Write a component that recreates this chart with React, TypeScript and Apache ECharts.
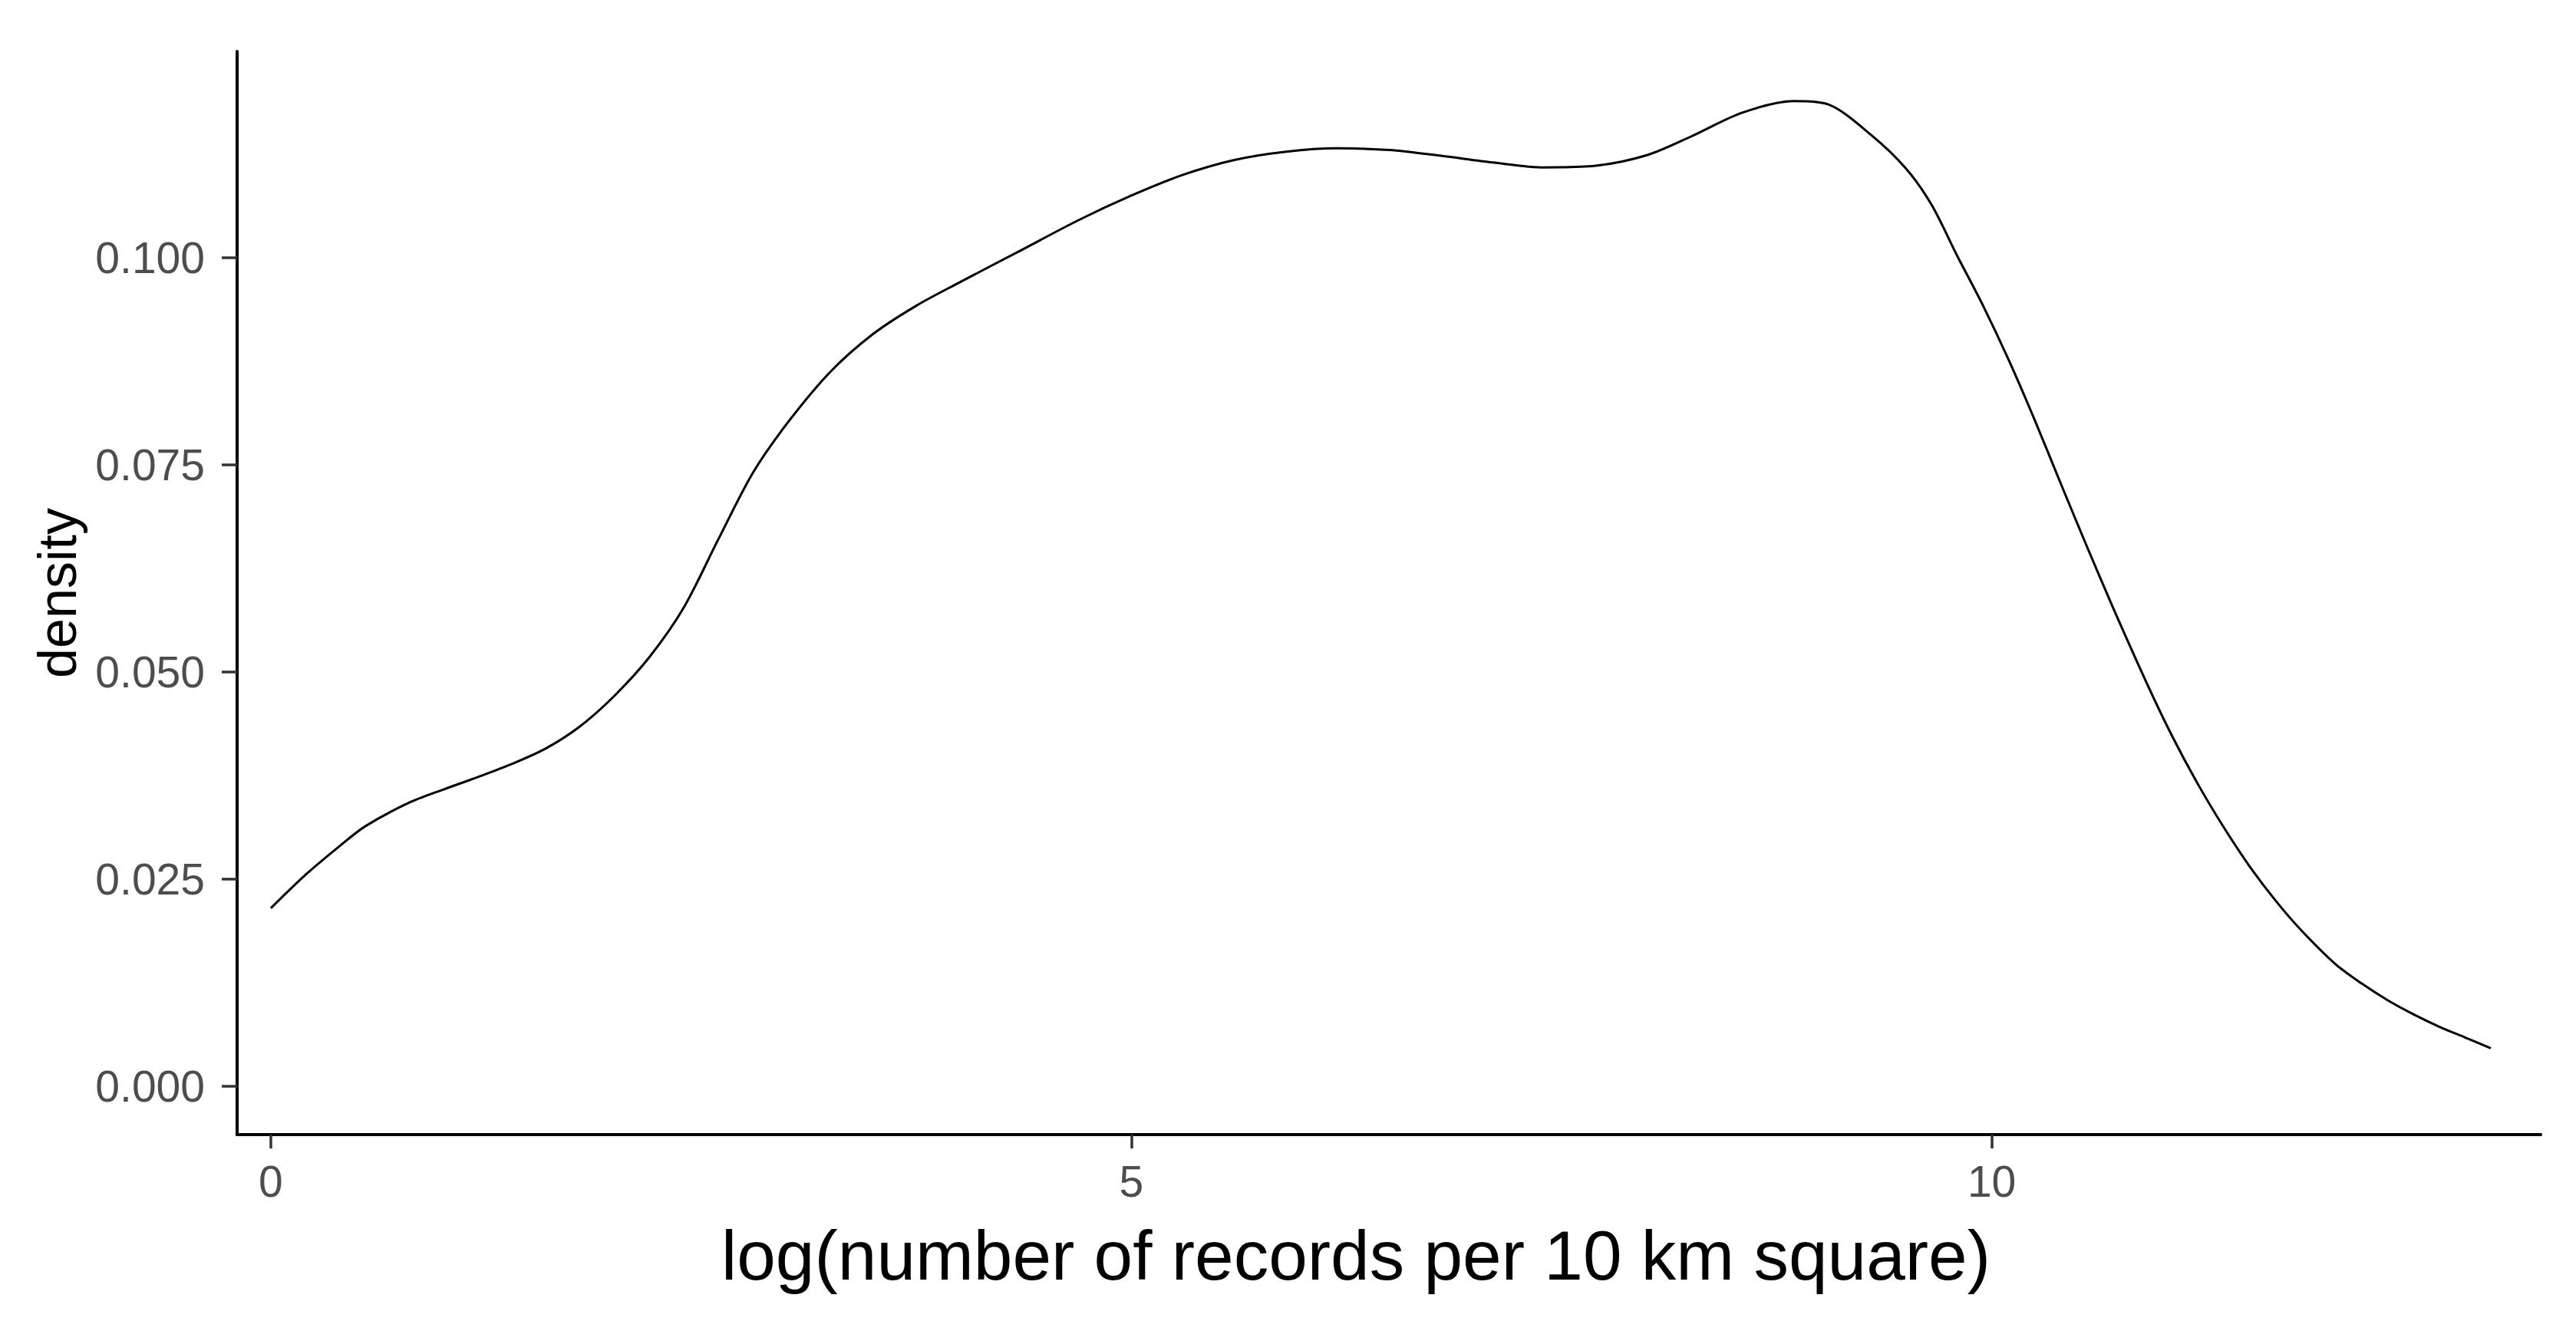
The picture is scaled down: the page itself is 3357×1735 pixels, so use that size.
import React, { useEffect, useRef } from "react";
import * as echarts from "echarts";

const xValues: number[] = [
  0.0, 0.2, 0.4, 0.55, 0.8, 1.0, 1.2, 1.4, 1.6, 1.8, 2.0, 2.2, 2.4, 2.6, 2.8, 3.0,
  3.25, 3.5, 3.75, 4.0, 4.35, 4.7, 5.0, 5.3, 5.6, 5.9, 6.2, 6.5, 6.8, 7.1, 7.4,
  7.7, 8.0, 8.25, 8.55, 8.85, 9.05, 9.3, 9.5, 9.65, 9.8, 9.95, 10.1, 10.25, 10.4,
  10.55, 10.7, 10.9, 11.05, 11.2, 11.35, 11.5, 11.65, 11.8, 12.0, 12.15, 12.3,
  12.45, 12.6, 12.75, 12.9,
];

const densityValues: number[] = [
  0.0215, 0.0255, 0.029, 0.0314, 0.0342, 0.0358, 0.0373, 0.0389, 0.0408, 0.0435,
  0.0472, 0.0518, 0.0578, 0.066, 0.074, 0.08, 0.0862, 0.0908, 0.0942, 0.097,
  0.1008, 0.1046, 0.1075, 0.11, 0.1118, 0.1128, 0.1132, 0.113, 0.1123, 0.1115,
  0.1109, 0.1111, 0.1124, 0.1146, 0.1175, 0.1189, 0.1185, 0.1148, 0.1108, 0.1064,
  0.1002, 0.0942, 0.0876, 0.0804, 0.0728, 0.0653, 0.058, 0.0487, 0.0422, 0.0364,
  0.0312, 0.0265, 0.0224, 0.0188, 0.0147, 0.0124, 0.0104, 0.0087, 0.0072, 0.0059, 0.0046,
];

const xTicks: number[] = [0, 5, 10];
const yTicks: number[] = [0, 0.025, 0.05, 0.075, 0.1];

const xTitle = "log(number of records per 10 km square)";
const yTitle = "density";

const FONT = "'Liberation Sans', Arial, Helvetica, sans-serif";

export default function App() {
  const ref = useRef<HTMLDivElement>(null);

  useEffect(() => {
    if (!ref.current) return;
    const chart = echarts.init(ref.current, null, { renderer: "svg" });
    const points = xValues.map((x, i) => [x, densityValues[i]]);
    chart.setOption({
      animation: false,
      backgroundColor: "#ffffff",
      grid: { left: 309, right: 46, top: 67, bottom: 256, containLabel: false },
      xAxis: {
        type: "value",
        min: -0.196,
        max: 13.19,
        name: xTitle,
        nameLocation: "middle",
        nameGap: 112,
        nameTextStyle: {
          fontSize: 91,
          color: "#000000",
          fontFamily: FONT,
          padding: [0, 86, 0, 0],
        },
        axisLine: { show: true, onZero: false, lineStyle: { color: "#000000", width: 4 } },
        axisTick: {
          show: true,
          customValues: xTicks,
          length: 18,
          lineStyle: { color: "#333333", width: 3.5 },
        },
        axisLabel: {
          show: true,
          customValues: xTicks,
          formatter: (v: number) => String(v),
          fontSize: 57,
          color: "#4D4D4D",
          fontFamily: FONT,
          margin: 32,
        },
        splitLine: { show: false },
      },
      yAxis: {
        type: "value",
        min: -0.00583,
        max: 0.1249,
        name: yTitle,
        nameLocation: "middle",
        nameGap: 199,
        nameRotate: 90,
        nameTextStyle: { fontSize: 70, color: "#000000", fontFamily: FONT },
        axisLine: { show: true, onZero: false, lineStyle: { color: "#000000", width: 4 } },
        axisTick: {
          show: true,
          customValues: yTicks,
          length: 20,
          lineStyle: { color: "#333333", width: 3.5 },
        },
        axisLabel: {
          show: true,
          customValues: yTicks,
          formatter: (v: number) => v.toFixed(3),
          fontSize: 57,
          color: "#4D4D4D",
          fontFamily: FONT,
          margin: 42,
        },
        splitLine: { show: false },
      },
      series: [
        {
          type: "line",
          data: points,
          smooth: 0.3,
          showSymbol: false,
          lineStyle: { color: "#000000", width: 3 },
        },
      ],
    });
    return () => chart.dispose();
  }, []);

  return (
    <div
      ref={ref}
      style={{ position: "absolute", left: 0, top: 0, width: 3357, height: 1735, background: "#fff" }}
    />
  );
}
